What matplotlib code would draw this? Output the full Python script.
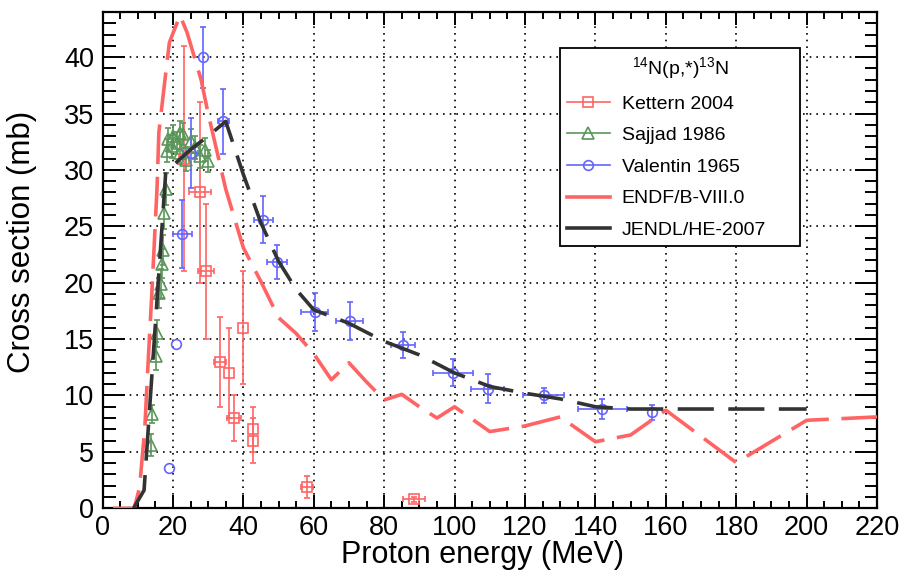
import numpy as np
import matplotlib
matplotlib.use("Agg")
import matplotlib.pyplot as plt
from matplotlib.lines import Line2D
from matplotlib.ticker import MultipleLocator

plt.rcParams['font.family'] = ['Liberation Sans', 'DejaVu Sans']
plt.rcParams['mathtext.default'] = 'regular'

# Kettern 2004
ket_e = [23.2, 27.7, 29.4, 33.4, 36.0, 37.4, 39.8, 42.8, 42.8, 58.1, 88.5]
ket_s = [31.0, 28.0, 21.0, 13.0, 12.0, 8.0, 16.0, 7.0, 6.0, 1.9, 0.8]
ket_ds = [10.0, 8.0, 6.0, 4.0, 4.0, 2.0, 5.0, 2.0, 2.0, 1.0, 0.2]
ket_de = [np.nan, 3.0, 2.4, 1.7, np.nan, 2.0, np.nan, np.nan, np.nan, 1.7, 3.1]

# Sajjad 1986
saj_e = [13.8, 14.0, 15.2, 15.4, 16.1, 16.5, 17.0, 17.3, 17.6, 18.0, 18.2, 18.5,
         19.7, 20.1, 21.1, 22.0, 22.0, 23.0, 23.7, 25.1, 26.3, 27.7, 29.1, 30.1]
saj_s = [5.6, 8.4, 13.5, 15.5, 19.1, 19.9, 21.7, 22.9, 26.2, 28.3, 31.7, 32.7,
         32.1, 33.0, 32.4, 33.3, 31.5, 33.2, 30.9, 32.6, 32.0, 31.2, 31.8, 30.8]
saj_ds = [1.0, 0.8, 1.2, 1.2, 1.3, 1.3, 1.3, 1.3, 1.4, 1.4, 1.0, 1.0,
          1.0, 1.0, 1.0, 1.0, 1.0, 1.0, 1.0, 1.0, 1.0, 1.0, 1.0, 1.0]

# Valentin 1965
val_e = [18.9, 21.0, 22.7, 25.0, 28.6, 34.3, 45.7, 49.6, 60.3, 70.2, 85.3, 99.6, 109.4, 125.3, 142.0, 156.0]
val_s = [3.6, 14.6, 24.3, 31.5, 40.0, 34.3, 25.6, 21.8, 17.4, 16.6, 14.5, 12.0, 10.6, 10.0, 8.8, 8.5]
val_ds = [np.nan, np.nan, 3.0, 3.1, 2.7, 2.9, 2.1, 1.5, 1.65, 1.7, 1.15, 1.2, 1.3, 0.7, 0.85, 0.7]
val_de = [np.nan, np.nan, 2.6, 2.0, np.nan, 1.6, 2.6, 2.9, 3.8, 3.9, 3.5, 5.6, 4.7, 5.8, 7.0, np.nan]

# ENDF/B-VIII.0
endf_e = [3, 9, 10.5, 12, 13, 14, 15.5, 16, 18, 19, 22, 24, 28, 30, 35, 40, 45, 50, 55, 60,
          65, 70, 75, 80, 85, 90, 95, 100, 110, 120, 130, 140, 150, 160, 180, 200, 220]
endf_s = [0, 0, 1.8, 7.0, 13.2, 19.0, 28.5, 33.3, 38.7, 41.3, 43.7, 42.2, 38.0, 35.0, 28.3,
          23.1, 20.1, 16.9, 15.5, 13.7, 11.4, 12.9, 11.2, 9.6, 10.1, 9.0, 8.0, 9.0, 6.8, 7.3,
          8.1, 5.9, 6.5, 8.7, 4.05, 7.8, 8.1]

# JENDL/HE-2007
jendl_e = [8.8, 11.8, 18, 20, 25, 30, 35, 40, 45, 50, 55, 60, 70, 80, 90, 100, 110, 120, 130, 140, 150, 200]
jendl_s = [0, 1.6, 30.0, 30.4, 31.8, 33.0, 34.3, 29.6, 25.3, 21.9, 19.4, 17.6, 16.4, 14.8, 13.6,
           12.0, 10.8, 10.2, 9.7, 9.0, 8.8, 8.8]

c_red = '#ff6464'
c_green = '#5a965a'
c_blue = '#6464ff'
c_black = '#333333'

fig = plt.figure(figsize=(9.04, 5.72), dpi=100)
ax = fig.add_axes([0.1134, 0.1114, 0.8568, 0.8676])

ax.grid(True, which='major', color='black', linestyle=(0, (1, 3)), linewidth=1.2)
ax.set_axisbelow(True)

ax.errorbar(ket_e, ket_s, yerr=ket_ds, xerr=ket_de, fmt='s', ms=7, mfc='none', mec=c_red,
            mew=1.2, ecolor=c_red, elinewidth=1.2, capsize=2.5, zorder=3)
ax.errorbar(saj_e, saj_s, yerr=saj_ds, fmt='^', ms=8, mfc='none', mec=c_green,
            mew=1.2, ecolor=c_green, elinewidth=1.2, capsize=2, zorder=3)
ax.errorbar(val_e, val_s, yerr=val_ds, xerr=val_de, fmt='o', ms=7, mfc='none', mec=c_blue,
            mew=1.2, ecolor=c_blue, elinewidth=1.2, capsize=2.5, zorder=3)

ax.plot(endf_e, endf_s, color=c_red, lw=2.6, dashes=(11, 3.5), zorder=4)
ax.plot(jendl_e, jendl_s, color=c_black, lw=2.6, dashes=(10, 4), zorder=4)

ax.set_xlim(0, 220)
ax.set_ylim(0, 44)
ax.xaxis.set_major_locator(MultipleLocator(20))
ax.xaxis.set_minor_locator(MultipleLocator(5))
ax.yaxis.set_major_locator(MultipleLocator(5))
ax.yaxis.set_minor_locator(MultipleLocator(1))
ax.tick_params(which='both', direction='in', top=True, right=True, width=1.4, labelsize=19.5)
ax.tick_params(axis='x', which='major', length=9.5, pad=5)
ax.tick_params(axis='x', which='minor', length=4.8)
ax.tick_params(axis='y', which='major', length=16, pad=6)
ax.tick_params(axis='y', which='minor', length=9)
for sp in ax.spines.values():
    sp.set_linewidth(1.6)

ax.set_xlabel('Proton energy (MeV)', fontsize=22)
ax.set_ylabel('Cross section (mb)', fontsize=22.5)
ax.xaxis.set_label_coords(0.49, -0.064)
ax.yaxis.set_label_coords(-0.085, 0.537)

handles = [
    Line2D([], [], color=c_red, lw=1.2, marker='s', ms=7, mfc='none', mec=c_red, mew=1.2),
    Line2D([], [], color=c_green, lw=1.2, marker='^', ms=8, mfc='none', mec=c_green, mew=1.2),
    Line2D([], [], color=c_blue, lw=1.2, marker='o', ms=7, mfc='none', mec=c_blue, mew=1.2),
    Line2D([], [], color=c_red, lw=2.6),
    Line2D([], [], color=c_black, lw=2.6),
]
labels = ['Kettern 2004', 'Sajjad 1986', 'Valentin 1965', 'ENDF/B-VIII.0', 'JENDL/HE-2007']
leg = ax.legend(handles, labels, title=r'$^{14}$N(p,*)$^{13}$N', loc='upper left',
                bbox_to_anchor=(0.591, 0.5205, 0.3096, 0.4065), mode='expand',
                borderaxespad=0, fontsize=14, title_fontsize=14, handlelength=2.2,
                handletextpad=0.6, labelspacing=0.72, borderpad=0.35, fancybox=False,
                framealpha=1, edgecolor='black')
leg.get_frame().set_linewidth(1.3)
leg.set_zorder(10)

fig.savefig('out.png', dpi=100)
